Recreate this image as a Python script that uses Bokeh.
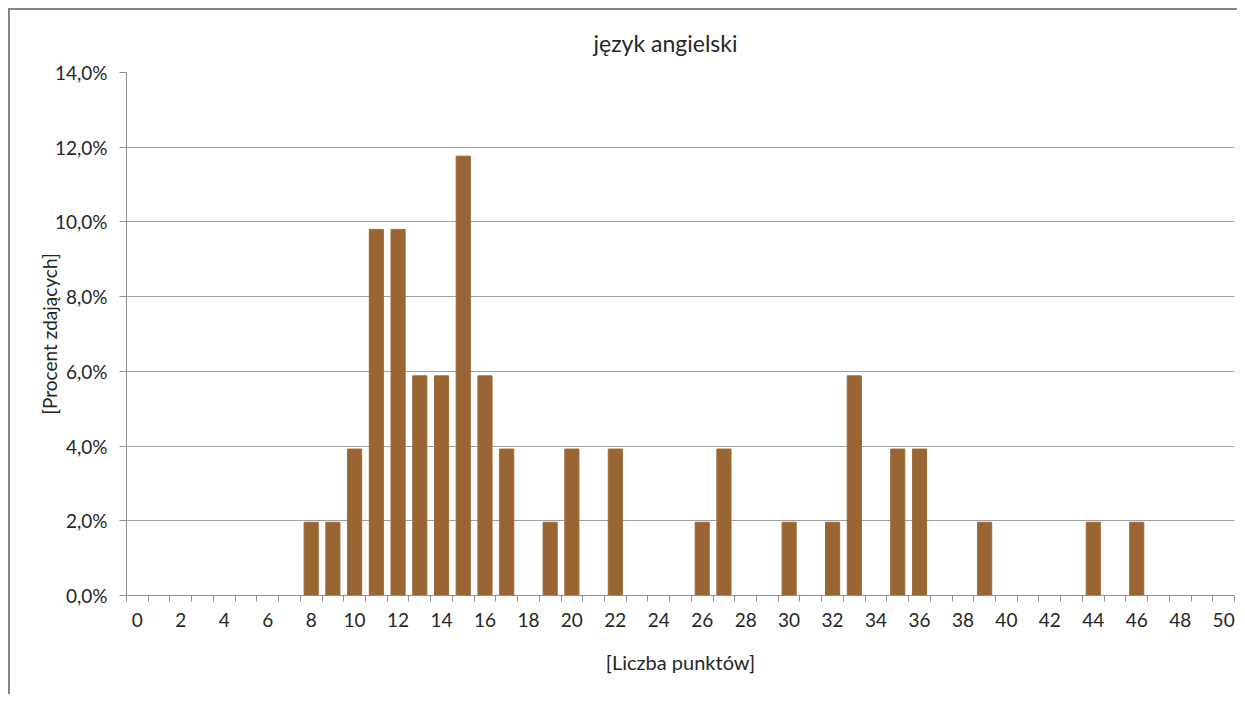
import math
from bokeh.plotting import figure
from bokeh.models import FixedTicker, Range1d
from bokeh.embed import file_html
from bokeh.resources import INLINE

# Data
scores = list(range(0, 51))
bar_scores = [8, 9, 10, 11, 12, 13, 14, 15, 16, 17, 19, 20, 22, 26, 27, 30, 32, 33, 35, 36, 39, 44, 46]
bar_percent = [1.96, 1.96, 3.92, 9.80, 9.80, 5.88, 5.88, 11.76, 5.88, 3.92, 1.96, 3.92, 3.92,
               1.96, 3.92, 1.96, 1.96, 5.88, 3.92, 3.92, 1.96, 1.96, 1.96]
y_ticks = [0, 2, 4, 6, 8, 10, 12, 14]
y_tick_labels = ["0,0%", "2,0%", "4,0%", "6,0%", "8,0%", "10,0%", "12,0%", "14,0%"]
x_label_ticks = list(range(0, 51, 2))
title_text = "język angielski"
x_title = "[Liczba punktów]"
y_title = "[Procent zdających]"

FONT = "Lato"
GRAY = "#8f8f8f"
TXT = "#262626"

p = figure(width=1229, height=686, output_backend="svg", toolbar_location=None,
           x_range=Range1d(-0.5, 50.5), y_range=Range1d(0, 14),
           min_border_left=116, min_border_right=5, min_border_top=62, min_border_bottom=101)
p.outline_line_color = None
p.background_fill_color = "white"
p.border_fill_color = "white"
p.styles = {"border-left": "2px solid #858585", "border-top": "2px solid #858585",
            "margin-left": "8px", "margin-top": "8px"}

p.title.text = title_text
p.title.align = "left"
p.title.offset = 467
p.title.text_font = FONT
p.title.text_font_size = "23px"
p.title.text_font_style = "normal"
p.title.text_color = TXT
p.title.standoff = 32

p.vbar(x=bar_scores, top=bar_percent, width=0.65, fill_color="#996633", line_color="#9c6a38", line_width=1)

# y axis
p.yaxis.ticker = FixedTicker(ticks=y_ticks)
p.yaxis.major_label_overrides = {t: l for t, l in zip(y_ticks, y_tick_labels)}
p.yaxis.major_tick_out = 7
p.yaxis.major_tick_in = 0
p.yaxis.minor_tick_line_color = None
p.yaxis.axis_line_color = GRAY
p.yaxis.major_tick_line_color = GRAY
p.yaxis.major_label_standoff = 12
p.yaxis.major_label_text_font = FONT
p.yaxis.major_label_text_font_size = "19px"
p.yaxis.major_label_text_color = TXT
p.yaxis.axis_label = y_title
p.yaxis.axis_label_text_font = FONT
p.yaxis.axis_label_text_font_size = "19px"
p.yaxis.axis_label_text_font_style = "normal"
p.yaxis.axis_label_text_color = TXT
p.yaxis.axis_label_standoff = -9

# x axis
p.xaxis.ticker = FixedTicker(ticks=x_label_ticks, minor_ticks=[s - 0.5 for s in scores] + [50.5])
p.xaxis.major_label_overrides = {t: str(t) for t in x_label_ticks}
p.xaxis.major_tick_line_color = None
p.xaxis.major_tick_out = 0
p.xaxis.major_tick_in = 0
p.xaxis.minor_tick_out = 6
p.xaxis.minor_tick_in = 0
p.xaxis.minor_tick_line_color = GRAY
p.xaxis.axis_line_color = GRAY
p.xaxis.major_label_standoff = 11
p.xaxis.major_label_text_font = FONT
p.xaxis.major_label_text_font_size = "19px"
p.xaxis.major_label_text_color = TXT
p.xaxis.axis_label = x_title
p.xaxis.axis_label_text_font = FONT
p.xaxis.axis_label_text_font_size = "20px"
p.xaxis.axis_label_text_font_style = "normal"
p.xaxis.axis_label_text_color = TXT
p.xaxis.axis_label_standoff = 20

p.xgrid.grid_line_color = None
p.ygrid.grid_line_color = "#a0a0a0"
p.ygrid.ticker = FixedTicker(ticks=y_ticks)

open("out.html", "w").write(file_html(p, INLINE))
